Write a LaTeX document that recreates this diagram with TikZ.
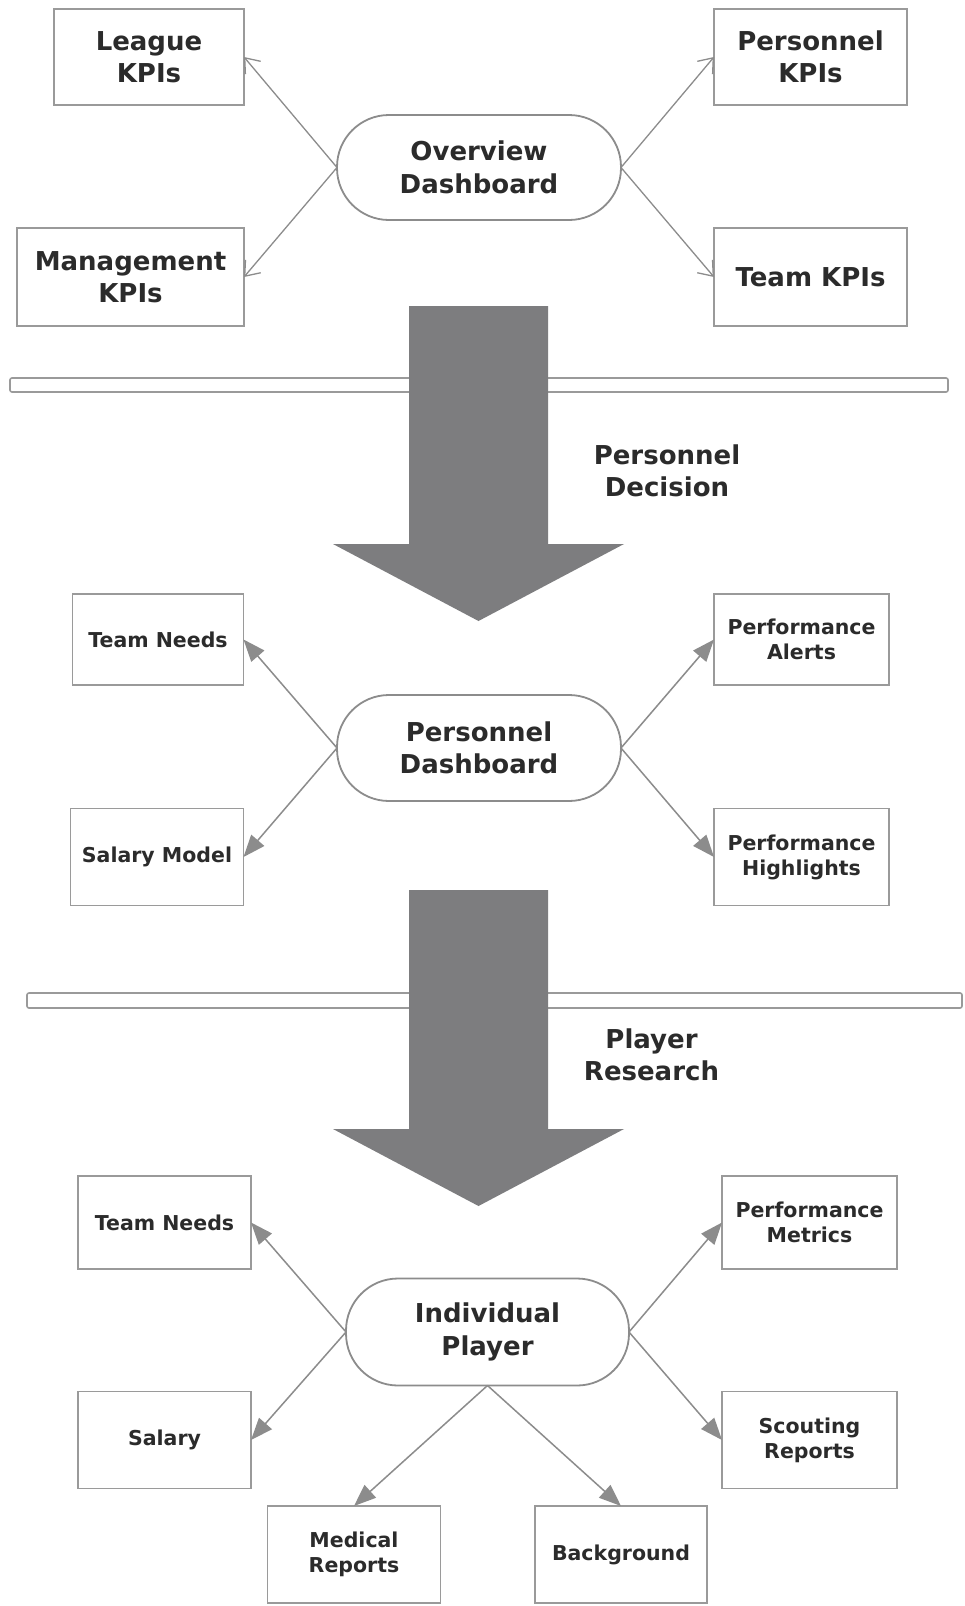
\documentclass[tikz,border=0pt]{standalone}
\usepackage{fontspec}
\setmainfont{DejaVu Sans}
\usetikzlibrary{arrows.meta}
\definecolor{txt}{HTML}{2B2B2B}
\definecolor{edge}{HTML}{9A9A9A}
\definecolor{link}{HTML}{8C8C8C}
\definecolor{bigarrow}{HTML}{7D7D7F}
\tikzset{
  bigtext/.style={font=\bfseries\fontsize{26}{32.5}\selectfont},
  smalltext/.style={font=\bfseries\fontsize{20.5}{25}\selectfont},
  itembox/.style={draw=edge, line width=1.8pt, fill=white, text=txt,
    align=center, inner sep=0pt, outer sep=0pt},
  hub/.style={itembox, draw=link, minimum width=284pt, minimum height=106pt,
    rounded corners=52pt, bigtext},
  openlink/.style={draw=link, line width=1.3pt,
    -{Straight Barb[length=13pt,width=20pt,line width=1.3pt]}},
  filledlink/.style={draw=link, line width=1.5pt,
    -{Triangle[length=22pt,width=17pt]}},
  divider/.style={draw=edge, line width=1.6pt, fill=white, rounded corners=2pt},
  flowarrow/.style={fill=bigarrow, draw=none},
  caption/.style={text=txt, align=center, bigtext}
}
\begin{document}
\begin{tikzpicture}[x=1pt, y=-1pt]
  \useasboundingbox[fill=white] (0,0) rectangle (965,1606);

  % --- Overview level ---
  \node[itembox, bigtext, minimum width=190pt, minimum height=96pt] (league) at (149,57) {League\\KPIs};
  \node[itembox, bigtext, minimum width=193pt, minimum height=96pt] (perskpi) at (810.5,57) {Personnel\\KPIs};
  \node[hub, minimum height=105pt] (overview) at (479,167.5) {Overview\\Dashboard};
  \node[itembox, bigtext, minimum width=227pt, minimum height=98pt] (mgmt) at (130.5,277) {Management\\KPIs};
  \node[itembox, bigtext, minimum width=193pt, minimum height=98pt] (teamkpi) at (810.5,277) {Team KPIs};

  \draw[openlink] (overview.west) -- (league.east);
  \draw[openlink] (overview.west) -- (mgmt.east);
  \draw[openlink] (overview.east) -- (perskpi.west);
  \draw[openlink] (overview.east) -- (teamkpi.west);

  % --- first transition ---
  \draw[divider] (10,378) rectangle (948,392);
  \fill[flowarrow] (409,306) -- (548,306) -- (548,544) -- (624,544)
    -- (478.5,621) -- (333,544) -- (409,544) -- cycle;
  \node[caption] (decision) at (667,471) {Personnel\\Decision};

  % --- Personnel level ---
  \node[itembox, smalltext, minimum width=171pt, minimum height=91pt] (needsA) at (158,639.5) {Team Needs};
  \node[itembox, smalltext, minimum width=175pt, minimum height=91pt] (alerts) at (801.5,639.5) {Performance\\Alerts};
  \node[hub] (persdash) at (479,748) {Personnel\\Dashboard};
  \node[itembox, smalltext, minimum width=173pt, minimum height=97pt] (salmodel) at (157,857) {Salary Model};
  \node[itembox, smalltext, minimum width=175pt, minimum height=97pt] (highlights) at (801.5,857) {Performance\\Highlights};

  \draw[filledlink] (persdash.west) -- (needsA.east);
  \draw[filledlink] (persdash.west) -- (salmodel.east);
  \draw[filledlink] (persdash.east) -- (alerts.west);
  \draw[filledlink] (persdash.east) -- (highlights.west);

  % --- second transition ---
  \draw[divider] (27,993) rectangle (962,1008);
  \fill[flowarrow] (409,890) -- (548,890) -- (548,1129) -- (624,1129)
    -- (478.5,1206) -- (333,1129) -- (409,1129) -- cycle;
  \node[caption] (research) at (651.5,1055) {Player\\Research};

  % --- Player level ---
  \node[itembox, smalltext, minimum width=173pt, minimum height=93pt] (needsB) at (164.5,1222.5) {Team Needs};
  \node[itembox, smalltext, minimum width=175pt, minimum height=93pt] (metrics) at (809.5,1222.5) {Performance\\Metrics};
  \node[hub, minimum width=283pt, minimum height=107pt] (indiv) at (487.5,1332) {Individual\\Player};
  \node[itembox, smalltext, minimum width=173pt, minimum height=97pt] (salary) at (164.5,1440) {Salary};
  \node[itembox, smalltext, minimum width=175pt, minimum height=97pt] (scouting) at (809.5,1440) {Scouting\\Reports};
  \node[itembox, smalltext, minimum width=173pt, minimum height=97pt] (medical) at (354,1554.5) {Medical\\Reports};
  \node[itembox, smalltext, minimum width=172pt, minimum height=97pt] (backgr) at (621,1554.5) {Background};

  \draw[filledlink] (indiv.west) -- (needsB.east);
  \draw[filledlink] (indiv.west) -- (salary.east);
  \draw[filledlink] (indiv.east) -- (metrics.west);
  \draw[filledlink] (indiv.east) -- (scouting.west);
  \draw[filledlink] (indiv.south) -- (medical.north);
  \draw[filledlink] (indiv.south) -- (backgr.north);
\end{tikzpicture}
\end{document}
